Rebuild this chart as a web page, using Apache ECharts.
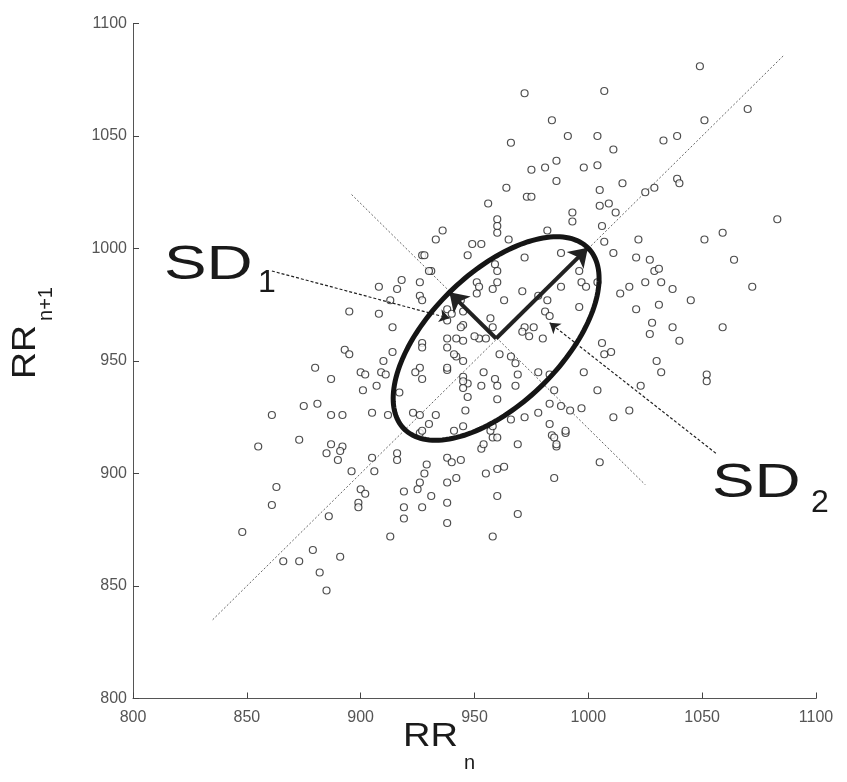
<!DOCTYPE html>
<html><head><meta charset="utf-8">
<script src="https://cdn.jsdelivr.net/npm/echarts@6.0.0/dist/echarts.min.js"></script>
<style>html,body{margin:0;padding:0;background:#fff}#c{width:847px;height:782px}</style>
</head><body><div id="c"></div>
<script>
// axis ranges / ticks
const axisMin = 800, axisMax = 1100, tickStep = 50;

// RR_n (x) vs RR_n+1 (y) points
const points = [
[848,874],[855,912],[861,926],[863,894],[861,886],[866,861],[873,861],[873,915],[875,930],[881,931],[879,866],[882,856],[885,848],[886,881],[887,926],[892,926],[887,913],[892,912],[885,909],[891,910],[890,906],[891,863],[896,901],[900,893],[902,891],[899,887],[899,885],[905,907],[906,901],[913,872],[916,909],[916,906],[919,892],[919,885],[919,880],[925,893],[926,896],[927,885],[929,904],[928,900],[931,890],[938,907],[938,896],[938,887],[938,878],[940,905],[944,906],[942,898],[955,900],[960,902],[963,903],[960,890],[969,882],[958,872],[984,917],[986,912],[990,918],[985,898],[1005,905],[941,919],[958,916],[953,911],
[905,927],[912,926],[923,927],[926,926],[930,922],[933,926],[926,918],
[936,1008],[933,1004],[927,997],[931,990],[918,986],[926,985],[908,983],[916,982],[926,979],[927,977],[913,977],[895,972],[908,971],[914,965],[927,958],[938,956],[893,955],[895,953],[914,954],[910,950],[926,947],[924,945],[927,942],[900,945],[902,944],[909,945],[911,944],[880,947],[887,942],[907,939],[901,937],[917,936],[938,946],
[947,997],[951,985],[952,983],[960,985],[958,982],[951,980],[938,973],[940,971],[938,968],[945,972],[945,966],[957,969],[938,960],[942,960],[945,959],[952,960],[955,960],[927,956],[942,952],[945,950],[938,947],[945,943],[947,940],[945,938],[947,934],[953,939],[960,939],[968,939],[957,919],[966,924],[972,925],[927,919],[969,913],
[956,1020],[960,1013],[960,1010],[960,1007],[965,1004],[949,1002],[953,1002],[982,1008],[988,998],[993,1016],[993,1012],[1005,1019],[1009,1020],[1012,1016],[1006,1010],[1007,1003],[1011,998],[972,996],[959,993],[960,990],
[1049,1081],[1007,1070],[972,1069],[984,1057],[1051,1057],[966,1047],[991,1050],[1004,1050],[1011,1044],[1033,1048],[1039,1050],[975,1035],[981,1036],[986,1039],[998,1036],[1004,1037],[986,1030],[1015,1029],[1039,1031],[1040,1029],[964,1027],[973,1023],[975,1023],[1005,1026],[1025,1025],[1029,1027],[1051,1004],[1059,1007],[1070,1062],[1083,1013],[1064,995],[1072,983],[1045,977],[1059,965],[1052,944],[1052,941],
[1022,1004],[1021,996],[1027,995],[1029,990],[1031,991],[1025,985],[1032,985],[1037,982],[1014,980],[1018,983],[1021,973],[1031,975],[1028,967],[1027,962],[1037,965],[1040,959],[1030,950],[1032,945],[997,985],[999,983],[1004,985],[996,990],[996,974],[971,981],[978,979],[982,977],[988,983],[972,965],[976,965],[971,963],[974,961],[980,960],[981,972],[983,970],[958,965],[963,977],[944,977],[944,965],[950,961],[961,953],[966,952],[968,949],[941,953],[954,945],[959,942],[969,944],[978,945],[983,944],[945,941],[946,928],[960,933],[985,937],[983,931],[988,930],[992,928],[997,929],[998,945],[1004,937],[1006,958],[1010,954],[1007,953],[1018,928],[1011,925],[1023,939],[978,927],[983,922],[990,919],[985,916],[986,913],[958,921],[960,916],[945,921],[954,913],[928,997],[930,990]
];

// identity line and perpendicular line end points
const identityLine = [[835, 835], [1086, 1086]];
const perpLine = [[896, 1024], [1025, 895]];

// ellipse centre and SD values
const ellipseCenter = [959.5, 960];
const sd1 = 29, sd2 = 57;

// label leader lines (start at label, end with arrow)
const sd1Leader = [[861, 990], [939, 969]];
const sd2Leader = [[1056, 909], [983, 967]];

const r2 = Math.SQRT2;
const sd1Tip = [ellipseCenter[0] - sd1 / r2, ellipseCenter[1] + sd1 / r2];
const sd2Tip = [ellipseCenter[0] + sd2 / r2, ellipseCenter[1] + sd2 / r2];

const chart = echarts.init(document.getElementById('c'), null, {renderer: 'canvas'});
const font = 'Liberation Sans';
const axisCommon = {
  type: 'value', min: axisMin, max: axisMax, interval: tickStep,
  axisLine: {show: true, onZero: false, lineStyle: {color: '#555', width: 1}},
  axisTick: {show: true, inside: true, length: 6, lineStyle: {color: '#444', width: 1}},
  splitLine: {show: false},
  axisLabel: {color: '#555', fontSize: 16, fontFamily: font, showMinLabel: true, showMaxLabel: true,
    formatter: function (v) { return String(v); }}
};

function markArrow(a, b, width, size, dotted) {
  return [
    {coord: a, symbol: 'none', lineStyle: {color: '#222', width: width, type: dotted ? [3, 2] : 'solid'}},
    {coord: b, symbol: 'arrow', symbolSize: size}
  ];
}

chart.setOption({
  animation: false,
  backgroundColor: '#fff',
  grid: {left: 133, right: 31, top: 23.5, bottom: 83.5, containLabel: false},
  xAxis: Object.assign({}, axisCommon, {axisLabel: Object.assign({}, axisCommon.axisLabel, {margin: 11})}),
  yAxis: Object.assign({}, axisCommon, {axisLabel: Object.assign({}, axisCommon.axisLabel, {margin: 6})}),
  series: [
    {
      type: 'line', data: identityLine, showSymbol: false, silent: true,
      lineStyle: {color: '#666', width: 1, type: [2, 2]}, z: 1
    },
    {
      type: 'line', data: perpLine, showSymbol: false, silent: true,
      lineStyle: {color: '#666', width: 1, type: [2, 2]}, z: 1
    },
    {
      type: 'scatter', data: points, symbol: 'circle', symbolSize: 7, silent: true,
      itemStyle: {color: '#fff', borderColor: '#222', borderWidth: 1.2}, z: 2,
      markLine: {
        silent: true, animation: false, label: {show: false}, symbol: ['none', 'arrow'],
        data: [
          markArrow(sd1Leader[0], sd1Leader[1], 1.2, 10, true),
          markArrow(sd2Leader[0], sd2Leader[1], 1.2, 10, true),
          markArrow(ellipseCenter, sd1Tip, 4, 18, false),
          markArrow(ellipseCenter, sd2Tip, 4, 18, false)
        ]
      }
    },
    {
      type: 'custom', silent: true, clip: false, z: 5,
      data: [ellipseCenter],
      renderItem: function (params, api) {
        const pts = [];
        for (let i = 0; i <= 160; i++) {
          const t = i / 160 * 2 * Math.PI;
          const a = sd2 * Math.cos(t), b = sd1 * Math.sin(t);
          pts.push(api.coord([ellipseCenter[0] + (a - b) / r2, ellipseCenter[1] + (a + b) / r2]));
        }
        return {type: 'polyline', shape: {points: pts}, style: {stroke: '#151515', lineWidth: 5, fill: null}};
      }
    }
  ],
  graphic: [
    {type: 'text', x: 164, y: 242, scaleX: 1.33, style: {text: 'SD', fontSize: 48, fontFamily: font, fill: '#1a1a1a', align: 'left', verticalAlign: 'top'}},
    {type: 'text', x: 258, y: 267, style: {text: '1', fontSize: 32, fontFamily: font, fill: '#1a1a1a', align: 'left', verticalAlign: 'top'}},
    {type: 'text', x: 712, y: 460, scaleX: 1.33, style: {text: 'SD', fontSize: 48, fontFamily: font, fill: '#1a1a1a', align: 'left', verticalAlign: 'top'}},
    {type: 'text', x: 811, y: 487, style: {text: '2', fontSize: 32, fontFamily: font, fill: '#1a1a1a', align: 'left', verticalAlign: 'top'}},
    {type: 'text', x: 403, y: 720, scaleX: 1.12, style: {text: 'RR', fontSize: 34, fontFamily: font, fill: '#1a1a1a', align: 'left', verticalAlign: 'top'}},
    {type: 'text', x: 464, y: 753, style: {text: 'n', fontSize: 20, fontFamily: font, fill: '#1a1a1a', align: 'left', verticalAlign: 'top'}},
    {type: 'text', x: 26, y: 352, rotation: Math.PI / 2, scaleX: 1.1, style: {text: 'RR', fontSize: 34, fontFamily: font, fill: '#1a1a1a', align: 'center', verticalAlign: 'middle'}},
    {type: 'text', x: 46, y: 304, rotation: Math.PI / 2, style: {text: 'n+1', fontSize: 20, fontFamily: font, fill: '#1a1a1a', align: 'center', verticalAlign: 'middle'}}
  ]
});
</script>
</body></html>
